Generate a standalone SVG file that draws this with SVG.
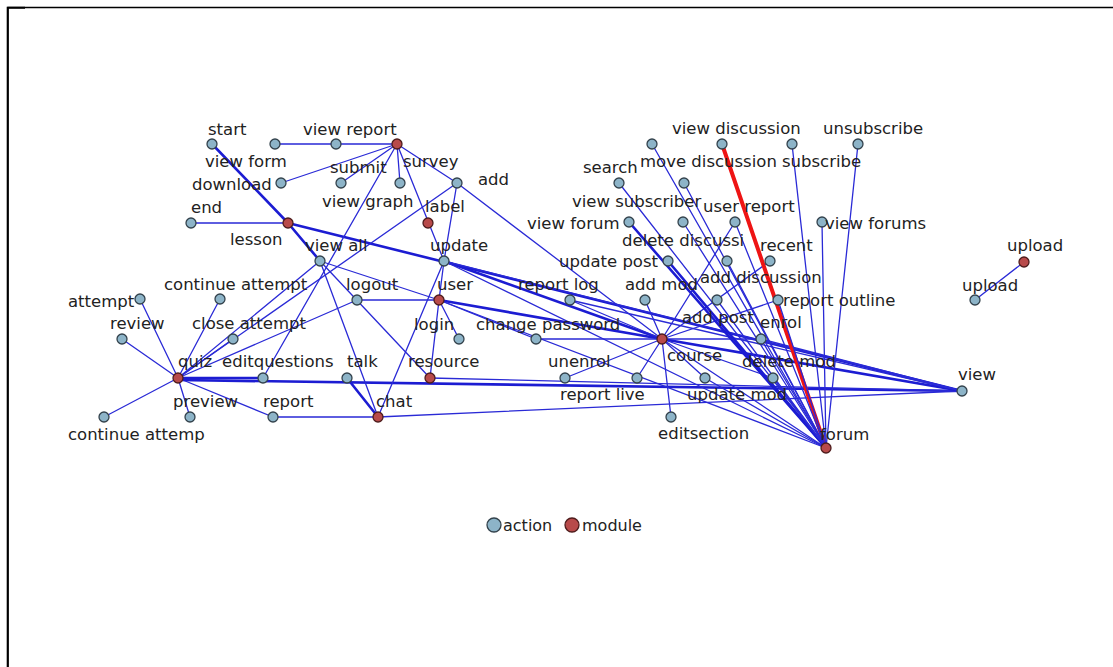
<svg xmlns="http://www.w3.org/2000/svg" width="1113" height="667" viewBox="0 0 1113 667">
  <style>
    .e { stroke: #2a2ad6; stroke-width: 1.3; fill: none; stroke-linecap: round; }
    .t { stroke: #1c1cd2; stroke-width: 2.6; fill: none; stroke-linecap: round; }
    .r { stroke: #ee1414; stroke-width: 4; fill: none; stroke-linecap: round; }
    .a { fill: #8db4c8; stroke: #33424c; stroke-width: 1.3; }
    .m { fill: #b84a4a; stroke: #4e1c1c; stroke-width: 1.3; }
    text { font-family: "DejaVu Sans", "Liberation Sans", sans-serif; font-size: 16.5px; fill: #222; }
    .lg { font-size: 16px; }
  </style>
  <rect x="0" y="0" width="1113" height="667" fill="#ffffff"/>
  <!-- frame -->
  <path d="M8 667 V7.5 H1113" fill="none" stroke="#000" stroke-width="1.3"/>
  <path d="M7.7 667 V7.7 H25" fill="none" stroke="#000" stroke-width="2"/>

  <g id="connectors">
    <!-- lesson -->
    <line class="t" x1="212" y1="144" x2="288" y2="223"/>
    <line class="t" x1="288" y1="223" x2="320" y2="261"/>
    <line class="e" x1="191" y1="223" x2="288" y2="223"/>
    <line class="t" x1="288" y1="223" x2="962" y2="391"/>
    <!-- survey -->
    <line class="e" x1="275" y1="144" x2="397" y2="144"/>
    <line class="e" x1="281" y1="183" x2="397" y2="144"/>
    <line class="e" x1="341" y1="183" x2="397" y2="144"/>
    <line class="e" x1="400" y1="183" x2="397" y2="144"/>
    <line class="e" x1="457" y1="183" x2="397" y2="144"/>
    <line class="e" x1="397" y1="144" x2="444" y2="261"/>
    <line class="e" x1="397" y1="144" x2="263" y2="378"/>
    <!-- add -->
    <line class="e" x1="457" y1="183" x2="444" y2="261"/>
    <line class="e" x1="457" y1="183" x2="178" y2="378"/>
    <line class="e" x1="457" y1="183" x2="662" y2="339"/>
    <!-- quiz -->
    <line class="e" x1="178" y1="378" x2="140" y2="299"/>
    <line class="e" x1="178" y1="378" x2="122" y2="339"/>
    <line class="e" x1="178" y1="378" x2="220" y2="299"/>
    <line class="e" x1="178" y1="378" x2="233" y2="339"/>
    <line class="e" x1="178" y1="378" x2="104" y2="417"/>
    <line class="e" x1="178" y1="378" x2="190" y2="417"/>
    <line class="e" x1="178" y1="378" x2="273" y2="417"/>
    <line class="e" x1="178" y1="378" x2="320" y2="261"/>
    <line class="e" x1="178" y1="378" x2="357" y2="300"/>
    <line class="t" x1="178" y1="378" x2="263" y2="378"/>
    <line class="t" x1="178" y1="380" x2="962" y2="391"/>
    <!-- user -->
    <line class="e" x1="357" y1="300" x2="439" y2="300"/>
    <line class="e" x1="439" y1="300" x2="459" y2="339"/>
    <line class="e" x1="439" y1="300" x2="536" y2="339"/>
    <line class="e" x1="439" y1="300" x2="430" y2="378"/>
    <line class="e" x1="439" y1="300" x2="444" y2="261"/>
    <line class="e" x1="320" y1="261" x2="439" y2="300"/>
    <line class="t" x1="439" y1="300" x2="662" y2="339"/>
    <line class="e" x1="439" y1="300" x2="826" y2="448"/>
    <!-- resource / chat -->
    <line class="e" x1="320" y1="261" x2="430" y2="378"/>
    <line class="e" x1="430" y1="378" x2="962" y2="391"/>
    <line class="e" x1="320" y1="261" x2="378" y2="417"/>
    <line class="e" x1="444" y1="261" x2="378" y2="417"/>
    <line class="t" x1="347" y1="378" x2="378" y2="417"/>
    <line class="e" x1="273" y1="417" x2="378" y2="417"/>
    <line class="e" x1="378" y1="417" x2="962" y2="391"/>
    <!-- update -->
    <line class="t" x1="444" y1="261" x2="662" y2="339"/>
    <line class="e" x1="444" y1="261" x2="826" y2="448"/>
    <line class="e" x1="444" y1="261" x2="962" y2="391"/>
    <!-- course -->
    <line class="e" x1="662" y1="339" x2="645" y2="300"/>
    <line class="e" x1="662" y1="339" x2="570" y2="300"/>
    <line class="e" x1="662" y1="339" x2="536" y2="339"/>
    <line class="e" x1="662" y1="339" x2="565" y2="378"/>
    <line class="e" x1="662" y1="339" x2="637" y2="378"/>
    <line class="e" x1="662" y1="339" x2="671" y2="417"/>
    <line class="e" x1="662" y1="339" x2="705" y2="378"/>
    <line class="e" x1="662" y1="339" x2="773" y2="378"/>
    <line class="e" x1="662" y1="339" x2="761" y2="339"/>
    <line class="e" x1="662" y1="339" x2="735" y2="222"/>
    <line class="e" x1="662" y1="339" x2="770" y2="261"/>
    <line class="e" x1="662" y1="339" x2="778" y2="300"/>
    <line class="t" x1="662" y1="339" x2="962" y2="391"/>
    <line class="e" x1="662" y1="339" x2="826" y2="448"/>
    <line class="e" x1="761" y1="339" x2="962" y2="391"/>
    <line class="e" x1="570" y1="300" x2="962" y2="391"/>
    <!-- forum -->
    <line class="e" x1="652" y1="144" x2="826" y2="448"/>
    <line class="r" x1="722" y1="144" x2="826" y2="448"/>
    <line class="e" x1="792" y1="144" x2="826" y2="448"/>
    <line class="e" x1="858" y1="144" x2="826" y2="448"/>
    <line class="e" x1="619" y1="183" x2="826" y2="448"/>
    <line class="e" x1="684" y1="183" x2="826" y2="448"/>
    <line class="t" x1="629" y1="222" x2="826" y2="448"/>
    <line class="e" x1="683" y1="222" x2="826" y2="448"/>
    <line class="e" x1="735" y1="222" x2="826" y2="448"/>
    <line class="e" x1="822" y1="222" x2="826" y2="448"/>
    <line class="t" x1="668" y1="261" x2="826" y2="448"/>
    <line class="e" x1="727" y1="261" x2="826" y2="448"/>
    <line class="e" x1="717" y1="300" x2="826" y2="448"/>
    <line class="e" x1="778" y1="300" x2="826" y2="448"/>
    <line class="e" x1="761" y1="339" x2="826" y2="448"/>
    <line class="e" x1="773" y1="378" x2="826" y2="448"/>
    <line class="e" x1="705" y1="378" x2="826" y2="448"/>
    <!-- upload -->
    <line class="e" x1="975" y1="300" x2="1024" y2="262"/>
  </g>

  <g id="nodes">
    <g id="n-start"><circle class="a" cx="212" cy="144" r="5"/><text x="208" y="135">start</text></g>
    <g id="n-view-form"><circle class="a" cx="275" cy="144" r="5"/><text x="205" y="167">view form</text></g>
    <g id="n-view-report"><circle class="a" cx="336" cy="144" r="5"/><text x="303" y="135">view report</text></g>
    <g id="n-survey"><circle class="m" cx="397" cy="144" r="5"/><text x="403" y="167">survey</text></g>
    <g id="n-download"><circle class="a" cx="281" cy="183" r="5"/><text x="192" y="190">download</text></g>
    <g id="n-submit"><circle class="a" cx="341" cy="183" r="5"/><text x="330" y="173">submit</text></g>
    <g id="n-view-graph"><circle class="a" cx="400" cy="183" r="5"/><text x="322" y="207">view graph</text></g>
    <g id="n-add"><circle class="a" cx="457" cy="183" r="5"/><text x="478" y="185">add</text></g>
    <g id="n-end"><circle class="a" cx="191" cy="223" r="5"/><text x="191" y="213">end</text></g>
    <g id="n-lesson"><circle class="m" cx="288" cy="223" r="5"/><text x="230" y="245">lesson</text></g>
    <g id="n-label"><circle class="m" cx="428" cy="223" r="5"/><text x="425" y="212">label</text></g>
    <g id="n-view-all"><circle class="a" cx="320" cy="261" r="5"/><text x="305" y="251">view all</text></g>
    <g id="n-update"><circle class="a" cx="444" cy="261" r="5"/><text x="430" y="251">update</text></g>
    <g id="n-attempt"><circle class="a" cx="140" cy="299" r="5"/><text x="68" y="307">attempt</text></g>
    <g id="n-continue-attempt"><circle class="a" cx="220" cy="299" r="5"/><text x="164" y="290">continue attempt</text></g>
    <g id="n-logout"><circle class="a" cx="357" cy="300" r="5"/><text x="346" y="290">logout</text></g>
    <g id="n-user"><circle class="m" cx="439" cy="300" r="5"/><text x="437" y="290">user</text></g>
    <g id="n-review"><circle class="a" cx="122" cy="339" r="5"/><text x="110" y="329">review</text></g>
    <g id="n-close-attempt"><circle class="a" cx="233" cy="339" r="5"/><text x="192" y="329">close attempt</text></g>
    <g id="n-login"><circle class="a" cx="459" cy="339" r="5"/><text x="414" y="330">login</text></g>
    <g id="n-change-password"><circle class="a" cx="536" cy="339" r="5"/><text x="476" y="330">change password</text></g>
    <g id="n-quiz"><circle class="m" cx="178" cy="378" r="5"/><text x="178" y="367">quiz</text></g>
    <g id="n-editquestions"><circle class="a" cx="263" cy="378" r="5"/><text x="222" y="367">editquestions</text></g>
    <g id="n-talk"><circle class="a" cx="347" cy="378" r="5"/><text x="347" y="367">talk</text></g>
    <g id="n-resource"><circle class="m" cx="430" cy="378" r="5"/><text x="408" y="367">resource</text></g>
    <g id="n-preview"><circle class="a" cx="190" cy="417" r="5"/><text x="173" y="407">preview</text></g>
    <g id="n-report"><circle class="a" cx="273" cy="417" r="5"/><text x="263" y="407">report</text></g>
    <g id="n-chat"><circle class="m" cx="378" cy="417" r="5"/><text x="376" y="407">chat</text></g>
    <g id="n-continue-attemp"><circle class="a" cx="104" cy="417" r="5"/><text x="68" y="440">continue attemp</text></g>

    <g id="n-move-discussion"><circle class="a" cx="652" cy="144" r="5"/><text x="640" y="167">move discussion</text></g>
    <g id="n-view-discussion"><circle class="a" cx="722" cy="144" r="5"/><text x="672" y="134">view discussion</text></g>
    <g id="n-subscribe"><circle class="a" cx="792" cy="144" r="5"/><text x="782" y="167">subscribe</text></g>
    <g id="n-unsubscribe"><circle class="a" cx="858" cy="144" r="5"/><text x="823" y="134">unsubscribe</text></g>
    <g id="n-search"><circle class="a" cx="619" cy="183" r="5"/><text x="583" y="173">search</text></g>
    <g id="n-view-subscriber"><circle class="a" cx="684" cy="183" r="5"/><text x="572" y="207">view subscriber</text></g>
    <g id="n-view-forum"><circle class="a" cx="629" cy="222" r="5"/><text x="527" y="229">view forum</text></g>
    <g id="n-delete-discussion"><circle class="a" cx="683" cy="222" r="5"/><text x="622" y="246">delete discussi</text></g>
    <g id="n-user-report"><circle class="a" cx="735" cy="222" r="5"/><text x="703" y="212">user report</text></g>
    <g id="n-view-forums"><circle class="a" cx="822" cy="222" r="5"/><text x="825" y="229">view forums</text></g>
    <g id="n-update-post"><circle class="a" cx="668" cy="261" r="5"/><text x="559" y="267">update post</text></g>
    <g id="n-add-discussion"><circle class="a" cx="727" cy="261" r="5"/><text x="700" y="283">add discussion</text></g>
    <g id="n-recent"><circle class="a" cx="770" cy="261" r="5"/><text x="760" y="251">recent</text></g>
    <g id="n-report-log"><circle class="a" cx="570" cy="300" r="5"/><text x="518" y="290">report log</text></g>
    <g id="n-add-mod"><circle class="a" cx="645" cy="300" r="5"/><text x="625" y="290">add mod</text></g>
    <g id="n-add-post"><circle class="a" cx="717" cy="300" r="5"/><text x="682" y="323">add post</text></g>
    <g id="n-report-outline"><circle class="a" cx="778" cy="300" r="5"/><text x="783" y="306">report outline</text></g>
    <g id="n-course"><circle class="m" cx="662" cy="339" r="5"/><text x="667" y="361">course</text></g>
    <g id="n-enrol"><circle class="a" cx="761" cy="339" r="5"/><text x="760" y="328">enrol</text></g>
    <g id="n-unenrol"><circle class="a" cx="565" cy="378" r="5"/><text x="548" y="367">unenrol</text></g>
    <g id="n-report-live"><circle class="a" cx="637" cy="378" r="5"/><text x="560" y="400">report live</text></g>
    <g id="n-update-mod"><circle class="a" cx="705" cy="378" r="5"/><text x="687" y="400">update mod</text></g>
    <g id="n-delete-mod"><circle class="a" cx="773" cy="378" r="5"/><text x="742" y="367">delete mod</text></g>
    <g id="n-editsection"><circle class="a" cx="671" cy="417" r="5"/><text x="658" y="439">editsection</text></g>
    <g id="n-view"><circle class="a" cx="962" cy="391" r="5"/><text x="958" y="380">view</text></g>
    <g id="n-forum"><circle class="m" cx="826" cy="448" r="5"/><text x="820" y="440">forum</text></g>
    <g id="n-upload-module"><circle class="m" cx="1024" cy="262" r="5"/><text x="1007" y="251">upload</text></g>
    <g id="n-upload-action"><circle class="a" cx="975" cy="300" r="5"/><text x="962" y="291">upload</text></g>
  </g>

  <g id="legend">
    <circle class="a" cx="494" cy="525" r="7"/>
    <text class="lg" x="503" y="531">action</text>
    <circle class="m" cx="572" cy="525" r="7"/>
    <text class="lg" x="582" y="531">module</text>
  </g>
</svg>
